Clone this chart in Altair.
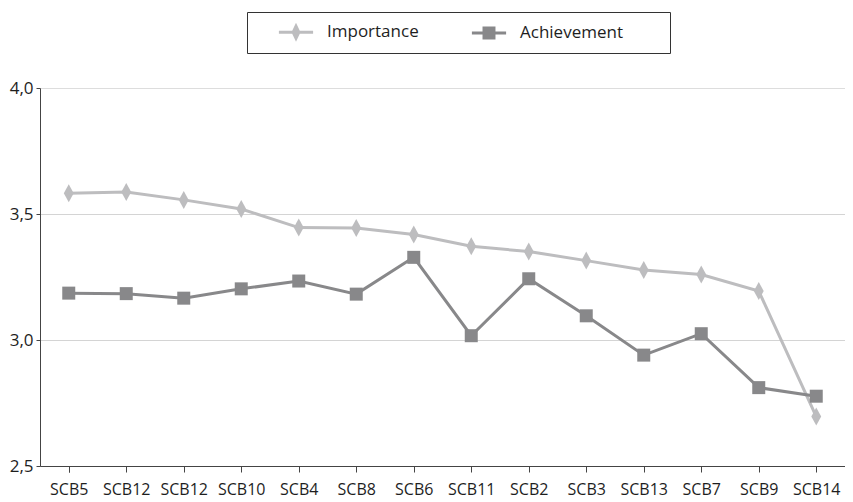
import altair as alt
import pandas as pd

categories = ["SCB5", "SCB12", "SCB12", "SCB10", "SCB4", "SCB8", "SCB6",
              "SCB11", "SCB2", "SCB3", "SCB13", "SCB7", "SCB9", "SCB14"]
importance = [3.582, 3.587, 3.556, 3.520, 3.446, 3.444, 3.419,
              3.372, 3.351, 3.315, 3.278, 3.260, 3.194, 2.696]
achievement = [3.186, 3.184, 3.166, 3.203, 3.234, 3.182, 3.328,
               3.017, 3.243, 3.096, 2.940, 3.025, 2.811, 2.777]
series_names = ["Importance", "Achievement"]
series_colors = ["#bdbdbf", "#88888a"]
y_ticks = [2.5, 3.0, 3.5, 4.0]

rows = []
for i, c in enumerate(categories):
    rows.append({"idx": i, "cat": c, "series": "Importance", "value": importance[i]})
    rows.append({"idx": i, "cat": c, "series": "Achievement", "value": achievement[i]})
df = pd.DataFrame(rows)

label_array = "[" + ",".join("'" + c + "'" for c in categories) + "]"

FONT = "Open Sans"
TEXT = "#1e1e1e"
AXIS = "#444444"

x_enc = alt.X(
    "idx:O",
    scale=alt.Scale(paddingInner=0, paddingOuter=0),
    axis=alt.Axis(
        title=None, labelAngle=0, labelExpr=label_array + "[datum.value]",
        bandPosition=1, tickExtra=True, tickSize=6, tickColor=AXIS,
        domainColor=AXIS, labelFont=FONT, labelFontSize=16, labelColor=TEXT,
        labelPadding=9, grid=False,
    ),
)
y_enc = alt.Y(
    "value:Q",
    scale=alt.Scale(domain=[2.5, 4.0], nice=False, zero=False),
    axis=alt.Axis(
        title=None, values=y_ticks, tickSize=4, tickColor=AXIS, domainColor=AXIS,
        labelFont=FONT, labelFontSize=17, labelColor=TEXT, labelPadding=3,
        labelExpr="replace(format(datum.value, '.1f'), '.', ',')",
        grid=True, gridColor="#a8a8a8", gridDash=[1, 1], gridWidth=1,
        gridOpacity={"condition": {"test": "datum.value == 4 || datum.value == 2.5", "value": 0}, "value": 1},
    ),
)

base = alt.Chart(df)

line_imp = base.transform_filter(alt.datum.series == "Importance").mark_line(
    color=series_colors[0], strokeWidth=3).encode(x=x_enc, y=y_enc)
line_ach = base.transform_filter(alt.datum.series == "Achievement").mark_line(
    color=series_colors[1], strokeWidth=3).encode(x=x_enc, y=y_enc)

diamond = "M0,-1L0.55,0L0,1L-0.55,0Z"
pts_imp = base.transform_filter(alt.datum.series == "Importance").mark_point(
    filled=True, opacity=1, shape=diamond, size=324, color=series_colors[0], strokeWidth=0
).encode(x=x_enc, y=y_enc)
pts_ach = base.transform_filter(alt.datum.series == "Achievement").mark_point(
    filled=True, opacity=1, shape="square", size=169, color=series_colors[1], strokeWidth=0
).encode(x=x_enc, y=y_enc)

leg_imp = "M-1.9,-0.17H1.9V0.17H-1.9Z M0,-1.05L0.5,0L0,1.05L-0.5,0Z"
leg_ach = "M-1.9,-0.17H1.9V0.17H-1.9Z M-0.72,-0.72H0.72V0.72H-0.72Z"

pad = "\u00a0" * 8 + "\u200b"
legend_layer = base.transform_filter("false").mark_point(
    filled=True, opacity=1, strokeWidth=0
).encode(
    x=x_enc, y=y_enc,
    color=alt.Color("series:N", scale=alt.Scale(domain=series_names, range=series_colors),
                    legend=alt.Legend(
                        title=None, orient="none", legendX=207, legendY=-76,
                        direction="horizontal", strokeColor="#333333", padding=11,
                        labelFont=FONT, labelFontSize=17, labelColor=TEXT,
                        labelExpr="datum.label == 'Achievement' ? datum.label + '" + pad + "' : datum.label",
                        symbolSize=324, symbolStrokeWidth=0, labelOffset=22,
                        symbolOffset=29, columnPadding=32, symbolOpacity=1,
                    )),
    shape=alt.Shape("series:N", scale=alt.Scale(domain=series_names, range=[leg_imp, leg_ach])),
)

chart = alt.layer(line_imp, line_ach, pts_imp, pts_ach, legend_layer).properties(
    width=805, height=378,
    autosize=alt.AutoSizeParams(type="none"),
    padding={"left": 32, "top": 80, "right": 0, "bottom": 34},
).configure_view(stroke="#333333", strokeWidth=1.2).configure(background="white")

chart.save("out.html", embed_options={"renderer": "svg", "actions": False})
